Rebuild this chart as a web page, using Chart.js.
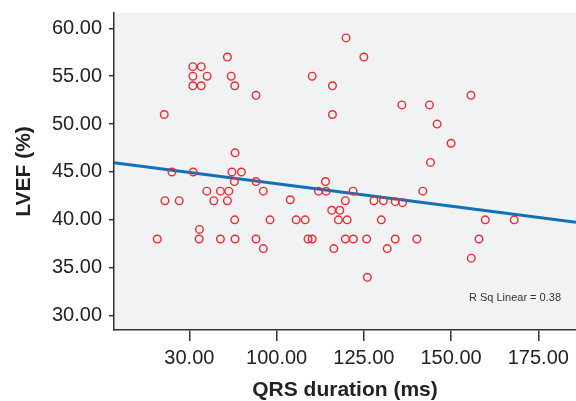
<!DOCTYPE html>
<html>
<head>
<meta charset="utf-8">
<script src="https://cdn.jsdelivr.net/npm/chart.js@4/dist/chart.umd.min.js"></script>
<style>
  html, body { margin: 0; padding: 0; background: #fff; }
  #wrap { width: 576px; height: 401px; }
</style>
</head>
<body>
<div id="wrap"><canvas id="scatter" width="576" height="401"></canvas></div>
<script>
// QRS duration (ms) vs LVEF (%)
const qrsValues = [
  85.9, 76.0, 78.4, 76.0, 80.1, 87.0, 76.0, 78.4, 88.0, 94.1,
  67.8, 88.1, 70.0, 76.1, 87.2, 89.9, 87.9, 94.1, 96.2, 80.0,
  83.9, 86.3, 68.0, 72.1, 82.0, 85.9, 88.0, 98.1, 77.9, 65.8,
  77.8, 83.9, 88.1, 94.1, 96.2, 119.9, 125.0, 110.2, 116.0, 135.9,
  116.0, 114.0, 112.0, 114.2, 121.9, 141.9, 103.9, 119.7, 127.9, 130.6,
  134.0, 136.1, 115.8, 118.1, 105.6, 108.2, 117.7, 120.2, 130.0, 109.0,
  110.2, 119.7, 122.0, 125.8, 134.0, 140.2, 116.4, 131.7, 126.0, 155.7,
  143.8, 146.0, 150.0, 144.1, 159.8, 168.1, 158.0, 155.8
];
const lvefValues = [
  57, 56, 56, 55, 55, 55, 54, 54, 54, 53,
  51, 47, 45, 45, 45, 45, 44, 44, 43, 43,
  43, 43, 42, 42, 42, 42, 40, 40, 39, 38,
  38, 38, 38, 38, 37, 59, 57, 55, 54, 52,
  51, 44, 43, 43, 43, 43, 42.1, 42, 42, 42,
  41.9, 41.8, 41, 41, 40, 40, 40, 40, 40, 38,
  38, 38, 38, 38, 38, 38, 37, 37, 34, 53,
  52, 50, 48, 46, 40, 40, 38, 36
];

// fit line end points
const fitX = [53.4, 185.8];
const fitY = [45.97, 39.75];
const rSqText = 'R Sq Linear = 0.38';

const xTickValues = [75, 100, 125, 150, 175];
const xTickLabels = ['30.00', '100.00', '125.00', '150.00', '175.00'];
const yTickValues = [30, 35, 40, 45, 50, 55, 60];
const yTickLabels = ['30.00', '35.00', '40.00', '45.00', '50.00', '55.00', '60.00'];

const FONT = "'Liberation Sans', Arial, sans-serif";
const INK = '#222';

const points = qrsValues.map((x, i) => ({ x: x, y: lvefValues[i] }));
const fitLine = fitX.map((x, i) => ({ x: x, y: fitY[i] }));

const plotBg = {
  id: 'plotBg',
  beforeDraw(chart) {
    const { ctx, chartArea: a } = chart;
    ctx.save();
    ctx.fillStyle = '#f1f2f4';
    ctx.fillRect(a.left, a.top, a.right - a.left, a.bottom - a.top);
    ctx.restore();
  },
  afterDraw(chart) {
    const { ctx, chartArea: a } = chart;
    ctx.save();
    ctx.font = '11px ' + FONT;
    ctx.fillStyle = '#333';
    ctx.textAlign = 'right';
    ctx.textBaseline = 'middle';
    ctx.fillText(rSqText, a.right - 15, a.bottom - 32);
    ctx.restore();
  }
};

new Chart(document.getElementById('scatter'), {
  type: 'scatter',
  data: {
    datasets: [
      {
        type: 'line',
        data: fitLine,
        borderColor: '#1270b8',
        borderWidth: 3,
        pointRadius: 0,
        fill: false,
        order: 2
      },
      {
        data: points,
        pointRadius: 3.8,
        pointBorderWidth: 1.4,
        borderColor: '#ee2a2f',
        backgroundColor: 'rgba(0,0,0,0)',
        order: 1
      }
    ]
  },
  options: {
    responsive: false,
    animation: false,
    devicePixelRatio: 1,
    layout: { autoPadding: false, padding: { top: 13, right: 0, left: 0, bottom: 0 } },
    plugins: {
      legend: { display: false },
      tooltip: { enabled: false }
    },
    scales: {
      x: {
        type: 'linear',
        min: 53.4,
        max: 185.8,
        afterFit(scale) {
          scale.height = 71;
          scale.paddingLeft = 0;
          scale.paddingRight = 0;
        },
        afterBuildTicks(scale) { scale.ticks = xTickValues.map(v => ({ value: v })); },
        border: { display: true, color: '#333', width: 1.5 },
        grid: { drawOnChartArea: false, drawTicks: true, tickLength: 11, color: '#333', lineWidth: 1.5 },
        ticks: {
          padding: 5,
          color: INK,
          font: { family: FONT, size: 20 },
          callback: (v, i) => xTickLabels[i]
        },
        title: {
          display: true,
          text: 'QRS duration (ms)',
          color: INK,
          font: { family: FONT, size: 21, weight: 'bold', lineHeight: 1 },
          padding: { top: 0, bottom: 0 }
        }
      },
      y: {
        type: 'linear',
        min: 28.5,
        max: 61.6,
        afterFit(scale) {
          scale.width = 114;
          scale.paddingTop = 0;
          scale.paddingBottom = 0;
        },
        afterBuildTicks(scale) { scale.ticks = yTickValues.map(v => ({ value: v })); },
        border: { display: true, color: '#333', width: 1.5 },
        grid: { drawOnChartArea: false, drawTicks: true, tickLength: 5, color: '#333', lineWidth: 1.5 },
        ticks: {
          padding: 7,
          color: INK,
          font: { family: FONT, size: 20 },
          callback: (v, i) => yTickLabels[i]
        },
        title: {
          display: true,
          text: 'LVEF (%)',
          color: INK,
          font: { family: FONT, size: 21, weight: 'bold', lineHeight: 1 },
          padding: { top: 14, bottom: 0 }
        }
      }
    }
  },
  plugins: [plotBg]
});
</script>
</body>
</html>
